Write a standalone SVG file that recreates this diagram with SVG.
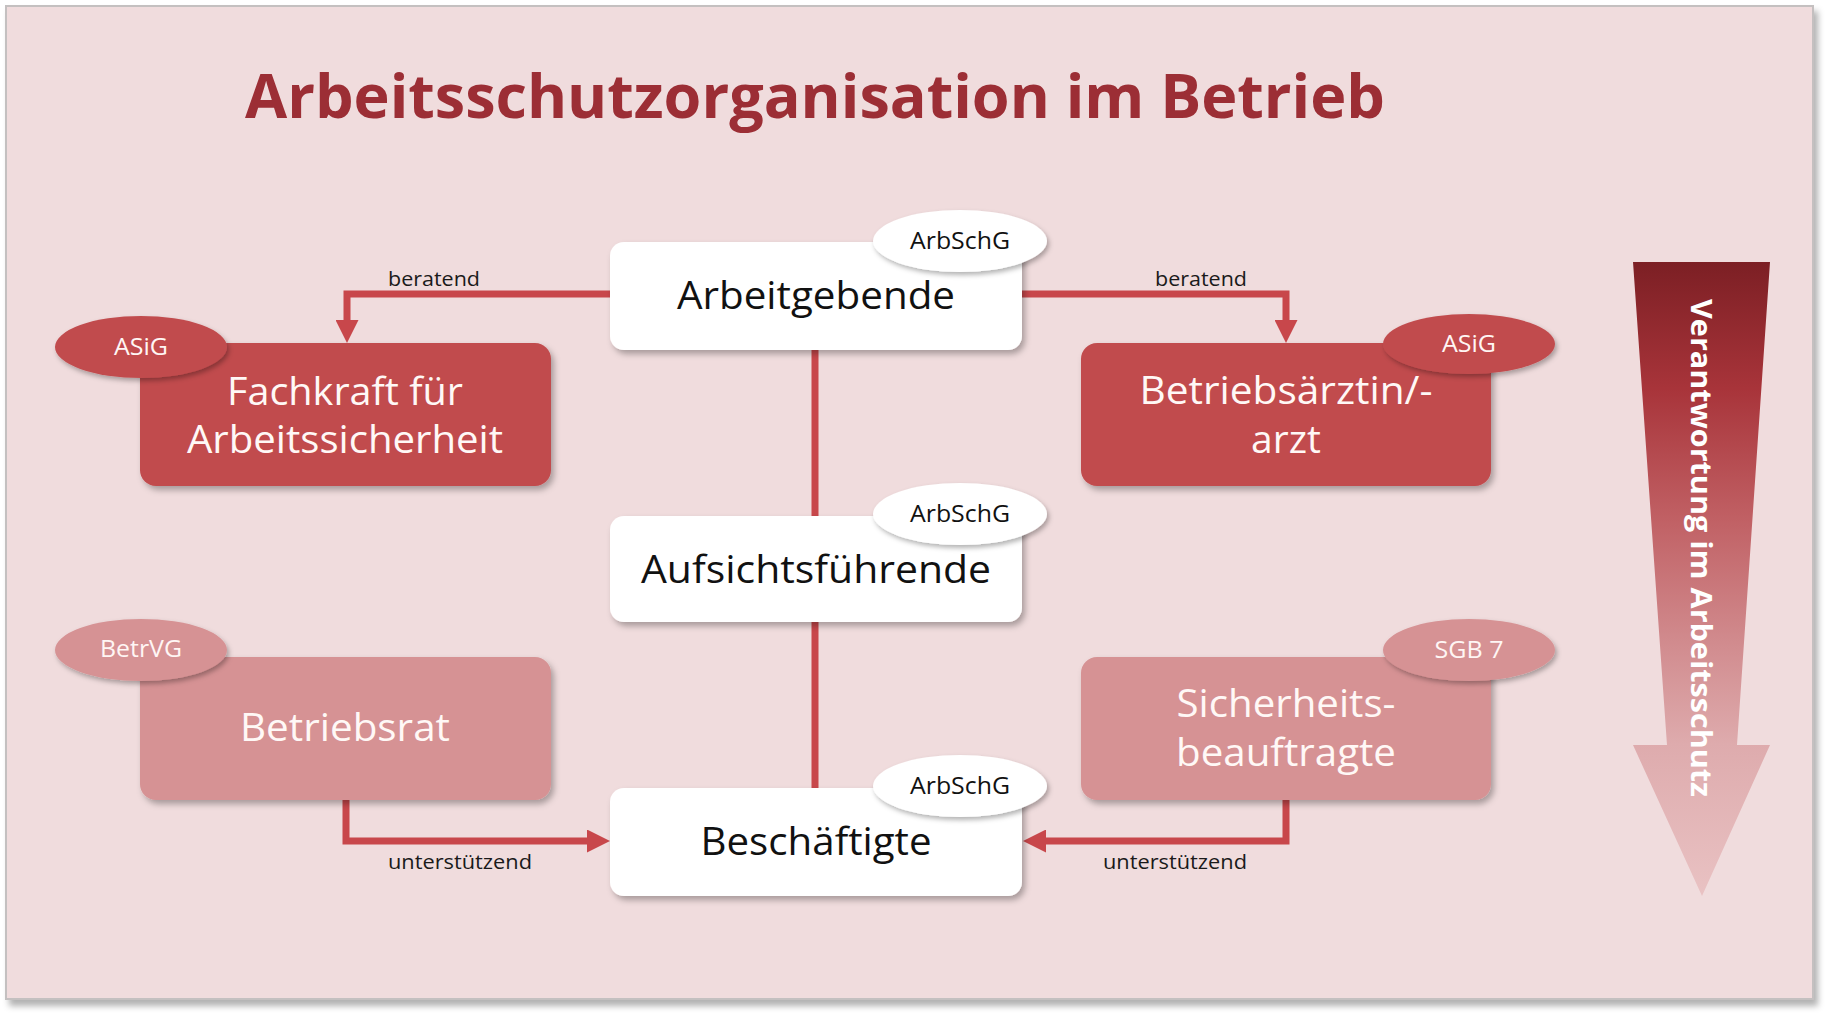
<svg xmlns="http://www.w3.org/2000/svg" width="1832" height="1018" viewBox="0 0 1832 1018">
  <style>
    .t { font-family: "Open Sans", "Noto Sans", sans-serif; }
    .node-w { fill: #ffffff; filter: url(#sh); }
    .node-r { fill: #c14c4e; filter: url(#sh); }
    .node-p { fill: #d69294; filter: url(#sh); }
    .lbl-dark { fill: #111111; font-size: 39px; }
    .lbl-light { fill: #fff8f6; font-size: 39px; }
    .tag-w { fill: #ffffff; filter: url(#sh2); }
    .tag-r { fill: #c14c4e; filter: url(#sh2); }
    .tag-p { fill: #d69294; filter: url(#sh2); }
    .tag-txt-d { fill: #111111; font-size: 23px; }
    .tag-txt-l { fill: #fff6f4; font-size: 24px; }
    .conn { fill: none; stroke: #c8474b; stroke-width: 7; stroke-linejoin: miter; stroke-linecap: butt; }
    .edge-lbl { fill: #1a1a1a; font-size: 20px; }
  </style>
  <defs>
    <filter id="sh" x="-10%" y="-10%" width="125%" height="130%">
      <feDropShadow dx="3" dy="4" stdDeviation="3" flood-color="#000000" flood-opacity="0.3"/>
    </filter>
    <filter id="sh2" x="-10%" y="-15%" width="125%" height="140%">
      <feDropShadow dx="2" dy="3" stdDeviation="2.5" flood-color="#000000" flood-opacity="0.3"/>
    </filter>
    <filter id="panelsh" x="-2%" y="-2%" width="104%" height="106%">
      <feDropShadow dx="4" dy="6" stdDeviation="3" flood-color="#000000" flood-opacity="0.3"/>
    </filter>
    <marker id="ah" viewBox="0 0 23 23" refX="0" refY="11.5" markerWidth="23" markerHeight="23" markerUnits="userSpaceOnUse" orient="auto">
      <path d="M0,0 L23,11.5 L0,23 z" fill="#c8474b"/>
    </marker>
    <linearGradient id="bigArrow" gradientUnits="userSpaceOnUse" x1="0" y1="262" x2="0" y2="896">
      <stop offset="0" stop-color="#7c1f24"/>
      <stop offset="0.2" stop-color="#a8343a"/>
      <stop offset="0.4" stop-color="#c05f63"/>
      <stop offset="0.6" stop-color="#d18b8e"/>
      <stop offset="0.76" stop-color="#deabad"/>
      <stop offset="1" stop-color="#e9c2c3"/>
    </linearGradient>
  </defs>

  <!-- background panel -->
  <rect x="0" y="0" width="1832" height="1018" fill="#ffffff"/>
  <rect x="6" y="6" width="1807" height="993" fill="#f0dcdd" stroke="#c4c0c0" stroke-width="2" filter="url(#panelsh)"/>

  <!-- title -->
  <text id="title" class="t" x="245" y="118" font-size="60" font-weight="700" fill="#9c2e35" textLength="1140" lengthAdjust="spacingAndGlyphs">Arbeitsschutzorganisation im Betrieb</text>

  <!-- connectors -->
  <g id="connectors">
    <path class="conn" d="M815,350 V788"/>
    <path class="conn" d="M610,294 H347 V320" marker-end="url(#ah)"/>
    <path class="conn" d="M1022,294 H1286 V320" marker-end="url(#ah)"/>
    <path class="conn" d="M346,800 V841 H587" marker-end="url(#ah)"/>
    <path class="conn" d="M1286,800 V841 H1046" marker-end="url(#ah)"/>
    <text class="t edge-lbl" x="434" y="286" text-anchor="middle" textLength="92" lengthAdjust="spacingAndGlyphs">beratend</text>
    <text class="t edge-lbl" x="1201" y="286" text-anchor="middle" textLength="92" lengthAdjust="spacingAndGlyphs">beratend</text>
    <text class="t edge-lbl" x="460" y="869" text-anchor="middle" textLength="144" lengthAdjust="spacingAndGlyphs">unterstützend</text>
    <text class="t edge-lbl" x="1175" y="869" text-anchor="middle" textLength="144" lengthAdjust="spacingAndGlyphs">unterstützend</text>
  </g>

  <!-- Arbeitgebende -->
  <g id="arbeitgebende">
    <rect class="node-w" x="610" y="242" width="412" height="108" rx="14"/>
    <text class="t lbl-dark" x="816" y="309" text-anchor="middle" textLength="278" lengthAdjust="spacingAndGlyphs">Arbeitgebende</text>
    <ellipse class="tag-w" cx="960" cy="241" rx="87" ry="31"/>
    <text class="t tag-txt-d" x="960" y="249" text-anchor="middle" textLength="100" lengthAdjust="spacingAndGlyphs">ArbSchG</text>
  </g>

  <!-- Aufsichtsführende -->
  <g id="aufsichtsfuehrende">
    <rect class="node-w" x="610" y="516" width="412" height="106" rx="14"/>
    <text class="t lbl-dark" x="816" y="583" text-anchor="middle" textLength="350" lengthAdjust="spacingAndGlyphs">Aufsichtsführende</text>
    <ellipse class="tag-w" cx="960" cy="514" rx="87" ry="31"/>
    <text class="t tag-txt-d" x="960" y="522" text-anchor="middle" textLength="100" lengthAdjust="spacingAndGlyphs">ArbSchG</text>
  </g>

  <!-- Beschäftigte -->
  <g id="beschaeftigte">
    <rect class="node-w" x="610" y="788" width="412" height="108" rx="14"/>
    <text class="t lbl-dark" x="816" y="855" text-anchor="middle" textLength="231" lengthAdjust="spacingAndGlyphs">Beschäftigte</text>
    <ellipse class="tag-w" cx="960" cy="786" rx="87" ry="31"/>
    <text class="t tag-txt-d" x="960" y="794" text-anchor="middle" textLength="100" lengthAdjust="spacingAndGlyphs">ArbSchG</text>
  </g>

  <!-- Fachkraft für Arbeitssicherheit -->
  <g id="fachkraft">
    <rect class="node-r" x="140" y="343" width="411" height="143" rx="16"/>
    <text class="t lbl-light" x="345" y="405" text-anchor="middle" textLength="236" lengthAdjust="spacingAndGlyphs">Fachkraft für</text>
    <text class="t lbl-light" x="345" y="453" text-anchor="middle" textLength="316" lengthAdjust="spacingAndGlyphs">Arbeitssicherheit</text>
    <ellipse class="tag-r" cx="141" cy="347" rx="86" ry="31"/>
    <text class="t tag-txt-l" x="141" y="355" text-anchor="middle" textLength="54" lengthAdjust="spacingAndGlyphs">ASiG</text>
  </g>

  <!-- Betriebsärztin/-arzt -->
  <g id="betriebsarzt">
    <rect class="node-r" x="1081" y="343" width="410" height="143" rx="16"/>
    <text class="t lbl-light" x="1286" y="404" text-anchor="middle" textLength="293" lengthAdjust="spacingAndGlyphs">Betriebsärztin/-</text>
    <text class="t lbl-light" x="1286" y="453" text-anchor="middle">arzt</text>
    <ellipse class="tag-r" cx="1469" cy="344" rx="86" ry="30"/>
    <text class="t tag-txt-l" x="1469" y="352" text-anchor="middle" textLength="54" lengthAdjust="spacingAndGlyphs">ASiG</text>
  </g>

  <!-- Betriebsrat -->
  <g id="betriebsrat">
    <rect class="node-p" x="140" y="657" width="411" height="143" rx="16"/>
    <text class="t lbl-light" x="345" y="741" text-anchor="middle" textLength="210" lengthAdjust="spacingAndGlyphs">Betriebsrat</text>
    <ellipse class="tag-p" cx="141" cy="650" rx="86" ry="31"/>
    <text class="t tag-txt-l" x="141" y="657" text-anchor="middle" textLength="82" lengthAdjust="spacingAndGlyphs">BetrVG</text>
  </g>

  <!-- Sicherheitsbeauftragte -->
  <g id="sicherheitsbeauftragte">
    <rect class="node-p" x="1081" y="657" width="410" height="143" rx="16"/>
    <text class="t lbl-light" x="1286" y="717" text-anchor="middle" textLength="219" lengthAdjust="spacingAndGlyphs">Sicherheits-</text>
    <text class="t lbl-light" x="1286" y="766" text-anchor="middle" textLength="220" lengthAdjust="spacingAndGlyphs">beauftragte</text>
    <ellipse class="tag-p" cx="1469" cy="650" rx="86" ry="31"/>
    <text class="t tag-txt-l" x="1469" y="658" text-anchor="middle" textLength="69" lengthAdjust="spacingAndGlyphs">SGB 7</text>
  </g>

  <!-- responsibility arrow -->
  <g id="verantwortung">
    <polygon points="1633,262 1770,262 1737,745 1770,745 1702,896 1633,745 1667,745" fill="url(#bigArrow)"/>
    <text class="t" transform="translate(1691,548) rotate(90)" x="0" y="0" text-anchor="middle" font-size="29" font-weight="700" fill="#ffffff" textLength="498" lengthAdjust="spacingAndGlyphs">Verantwortung im Arbeitsschutz</text>
  </g>
</svg>
